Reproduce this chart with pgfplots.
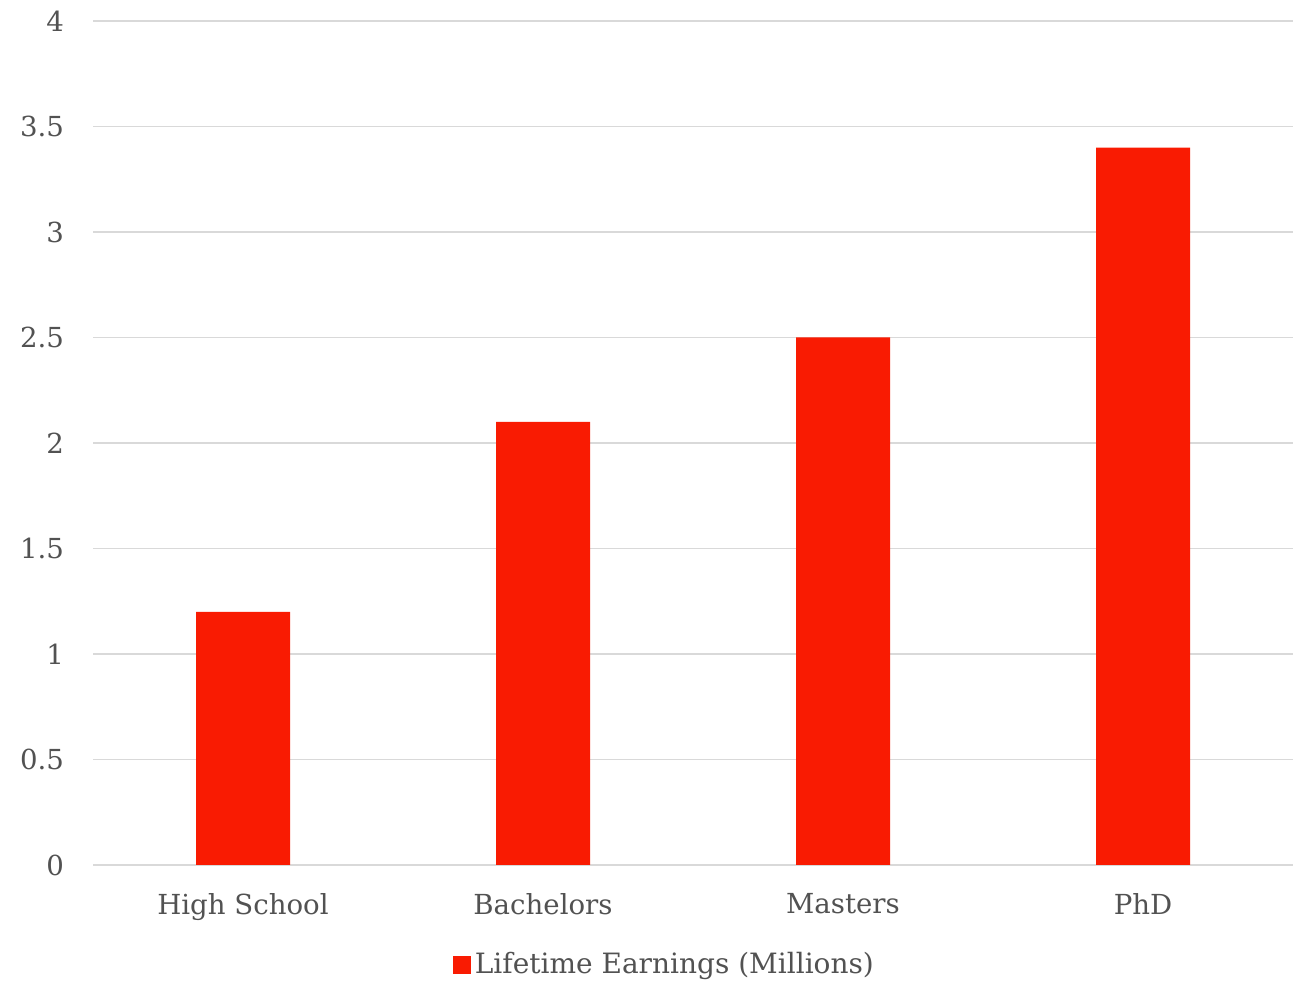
\documentclass[border=0pt]{standalone}
\usepackage{fontspec}
\setmainfont{DejaVu Serif}
\usepackage{pgfplots}
\pgfplotsset{compat=1.18}
\definecolor{barred}{RGB}{249,27,2}
\definecolor{txtgrey}{RGB}{82,82,82}
\definecolor{gridgrey}{RGB}{217,217,217}

\begin{document}
\begin{tikzpicture}
\begin{axis}[
    at={(46.5pt,59pt)}, anchor=south west,
    scale only axis,
    width=600pt, height=422pt,
    ybar, bar width=47pt,
    xmin=-0.5, xmax=3.5,
    ymin=0, ymax=4,
    xtick=data,
    xticklabels={High School, Bachelors, Masters, PhD},
    ytick={0,0.5,...,4},
    yticklabel style={/pgf/number format/fixed, /pgf/number format/assume math mode=true},
    ymajorgrids, grid style={gridgrey, line width=0.9pt},
    axis line style={draw=none},
    major tick style={draw=none},
    tick label style={font=\fontsize{13.8}{16}\selectfont, text=txtgrey},
    xticklabel style={yshift=-6.5pt},
    yticklabel style={xshift=-11pt},
    legend style={at={(0.477,-0.118)}, anchor=center, draw=none,
        font=\fontsize{14}{16}\selectfont, text=txtgrey},
]
\addplot[fill=barred, draw=none,
    legend image code/.code={\fill[barred] (-1pt,-4.5pt) rectangle (8pt,4.5pt);}]
    coordinates {(0,1.2) (1,2.1) (2,2.5) (3,3.4)};
\addlegendentry{Lifetime Earnings (Millions)}
\end{axis}
\pgfresetboundingbox
\path (0,0) rectangle (653.5pt,491.5pt);
\end{tikzpicture}
\end{document}
